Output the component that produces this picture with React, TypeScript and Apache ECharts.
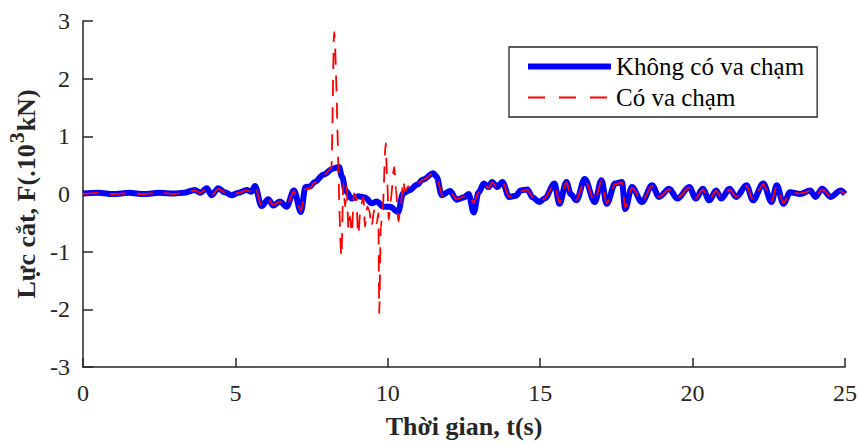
import React, { useEffect, useRef } from "react";
import * as echarts from "echarts";

// Thời gian (s) và lực cắt (10^3 kN) — Không có va chạm
const khongT = [0, 0.5, 1.0, 1.5, 2.0, 2.5, 3.0, 3.3, 3.67, 3.85, 4.06, 4.22, 4.44, 4.65, 4.88, 5.1, 5.37, 5.53, 5.64, 5.86, 6.08, 6.24, 6.46, 6.68, 6.92, 7.15, 7.3, 7.45, 7.6, 7.9, 8.2, 8.4, 8.5, 8.62, 8.82, 9.03, 9.25, 9.47, 9.64, 9.85, 10.07, 10.34, 10.5, 10.73, 10.95, 11.16, 11.49, 11.6, 11.77, 12.04, 12.26, 12.49, 12.65, 12.82, 12.98, 13.15, 13.31, 13.42, 13.59, 13.76, 13.98, 14.2, 14.36, 14.58, 14.75, 14.97, 15.14, 15.47, 15.63, 15.86, 16.0, 16.19, 16.46, 16.79, 17.01, 17.18, 17.46, 17.68, 17.79, 18.01, 18.34, 18.67, 18.9, 19.23, 19.5, 19.89, 20.11, 20.33, 20.55, 20.77, 20.94, 21.21, 21.43, 21.77, 21.98, 22.32, 22.59, 22.76, 22.98, 23.2, 23.53, 23.86, 24.03, 24.25, 24.53, 24.86, 25.0];
const khongV = [0.01, 0.02, 0.0, 0.02, 0.0, 0.02, 0.01, 0.02, 0.07, 0.02, 0.1, -0.02, 0.1, 0.03, -0.02, 0.02, 0.07, 0.04, 0.14, -0.21, -0.09, -0.2, -0.13, -0.22, 0.06, -0.31, 0.12, 0.13, 0.21, 0.34, 0.44, 0.47, 0.3, 0.05, -0.08, -0.04, -0.06, -0.16, -0.13, -0.22, -0.22, -0.31, 0.01, 0.07, 0.16, 0.25, 0.36, 0.3, -0.02, 0.05, -0.1, -0.06, 0.0, -0.32, 0.03, 0.18, 0.12, 0.21, 0.12, 0.21, -0.05, -0.03, 0.06, 0.08, -0.06, -0.14, -0.08, 0.18, -0.17, 0.21, 0.0, -0.11, 0.26, -0.14, 0.24, -0.17, 0.18, 0.21, -0.26, 0.12, -0.14, 0.15, -0.05, 0.09, -0.08, 0.12, -0.08, 0.09, -0.11, 0.06, -0.08, 0.09, -0.05, 0.15, -0.11, 0.18, -0.14, 0.15, -0.17, 0.03, 0.0, 0.06, -0.05, 0.09, -0.05, 0.06, 0.0];

// Có va chạm
const coT = [0, 0.5, 1.0, 1.5, 2.0, 2.5, 3.0, 3.3, 3.67, 3.85, 4.06, 4.22, 4.44, 4.65, 4.88, 5.1, 5.37, 5.53, 5.64, 5.86, 6.08, 6.24, 6.46, 6.68, 6.92, 7.15, 7.3, 7.45, 7.6, 7.9, 8.15, 8.24, 8.48, 8.54, 8.6, 8.65, 8.71, 8.76, 8.82, 8.89, 8.96, 9.03, 9.11, 9.2, 9.25, 9.33, 9.39, 9.47, 9.55, 9.64, 9.69, 9.72, 9.77, 9.83, 9.93, 9.98, 10.03, 10.09, 10.21, 10.27, 10.35, 10.42, 10.51, 10.56, 10.67, 10.8, 10.95, 11.16, 11.49, 11.6, 11.8, 12.04, 12.26, 12.49, 12.65, 12.82, 12.98, 13.15, 13.31, 13.42, 13.59, 13.76, 13.98, 14.2, 14.36, 14.58, 14.75, 14.97, 15.14, 15.47, 15.63, 15.86, 16.0, 16.19, 16.46, 16.79, 17.01, 17.18, 17.46, 17.68, 17.79, 18.01, 18.34, 18.67, 18.9, 19.23, 19.5, 19.89, 20.11, 20.33, 20.55, 20.77, 20.94, 21.21, 21.43, 21.77, 21.98, 22.32, 22.59, 22.76, 22.98, 23.2, 23.53, 23.86, 24.03, 24.25, 24.53, 24.86, 25.0];
const coV = [0.0, 0.02, 0.0, 0.01, 0.0, 0.02, 0.0, 0.02, 0.06, 0.02, 0.09, -0.02, 0.09, 0.03, -0.02, 0.02, 0.06, 0.04, 0.13, -0.2, -0.09, -0.19, -0.13, -0.21, 0.05, -0.29, 0.09, 0.1, 0.2, 0.33, 0.45, 2.81, -1.09, 0.19, -0.22, 0.13, -0.62, -0.39, -0.68, 0.01, -0.05, -0.71, -0.22, -0.05, -0.57, -0.22, -0.28, -0.57, -0.28, -0.51, -0.33, -2.07, -0.57, -0.28, 0.88, 0.24, -0.45, -0.13, 0.47, 0.07, -0.48, -0.22, 0.24, 0.04, 0.13, 0.1, 0.17, 0.25, 0.35, 0.3, -0.04, 0.04, -0.09, -0.05, 0.0, -0.15, 0.03, 0.16, 0.1, 0.2, 0.11, 0.2, -0.04, -0.03, 0.05, 0.07, -0.05, -0.13, -0.08, 0.17, -0.15, 0.2, 0.0, -0.1, 0.25, -0.13, 0.23, -0.16, 0.17, 0.2, -0.24, 0.11, -0.13, 0.14, -0.05, 0.08, -0.07, 0.11, -0.07, 0.08, -0.1, 0.06, -0.07, 0.08, -0.05, 0.14, -0.1, 0.17, -0.13, 0.14, -0.16, 0.03, 0.01, 0.05, -0.04, 0.08, -0.04, 0.05, 0.0];

const seriesNames = ["Không có va chạm", "Có va chạm"];
const xRange = { min: 0, max: 25, step: 5 };
const yRange = { min: -3, max: 3, step: 1 };

const FONT = "Liberation Serif";
const INK = "#262626";

export default function App() {
  const ref = useRef<HTMLDivElement | null>(null);

  useEffect(() => {
    if (!ref.current) return;
    const chart = echarts.init(ref.current, undefined, { renderer: "svg" });
    const khong = khongT.map((t, i) => [t, khongV[i]]);
    const co = coT.map((t, i) => [t, coV[i]]);

    chart.setOption({
      animation: false,
      backgroundColor: "#fff",
      textStyle: { fontFamily: FONT },
      grid: { left: 83, right: 14, top: 21, bottom: 77, containLabel: false, outerBoundsMode: "none" },
      legend: {
        orient: "vertical",
        left: 509,
        top: 47,
        padding: [7, 13, 7, 16],
        itemGap: 6,
        itemWidth: 83,
        itemHeight: 25,
        borderColor: INK,
        borderWidth: 1.3,
        borderRadius: 0,
        backgroundColor: "#fff",
        itemStyle: { opacity: 0 },
        textStyle: { fontFamily: FONT, fontSize: 25, color: "#000" },
        data: [
          { name: seriesNames[0], itemStyle: { opacity: 0 }, lineStyle: { width: 6 } },
          { name: seriesNames[1], itemStyle: { opacity: 0 }, lineStyle: { width: 2, type: [17, 14] } },
        ],
      },
      xAxis: {
        type: "value",
        min: xRange.min,
        max: xRange.max,
        interval: xRange.step,
        name: "Thời gian, t(s)",
        nameLocation: "middle",
        nameGap: 46,
        nameTextStyle: { fontFamily: FONT, fontSize: 26, fontWeight: "bold", color: INK },
        axisLine: { onZero: false, lineStyle: { color: INK, width: 1.5 } },
        axisTick: { inside: true, length: 9, lineStyle: { color: INK, width: 1.5 } },
        axisLabel: { fontFamily: FONT, fontSize: 24, color: INK, margin: 14 },
        splitLine: { show: false },
      },
      yAxis: {
        type: "value",
        min: yRange.min,
        max: yRange.max,
        interval: yRange.step,
        name: "{a|Lực cắt, F(.10}{s|3}{a|kN)}",
        nameLocation: "middle",
        nameRotate: 90,
        nameGap: 36,
        nameTextStyle: {
          fontFamily: FONT,
          fontSize: 26,
          fontWeight: "bold",
          color: INK,
          rich: {
            a: { fontFamily: FONT, fontSize: 26, fontWeight: "bold", color: INK },
            s: { fontFamily: FONT, fontSize: 22, fontWeight: "bold", color: INK, padding: [0, 1, 20, 1] },
          },
        },
        axisLine: { onZero: false, lineStyle: { color: INK, width: 1.5 } },
        axisTick: { inside: true, length: 10, lineStyle: { color: INK, width: 1.5 } },
        axisLabel: { fontFamily: FONT, fontSize: 24, color: INK, margin: 13 },
        splitLine: { show: false },
      },
      series: [
        {
          name: seriesNames[0],
          type: "line",
          data: khong,
          symbol: "none",
          smooth: 0.35,
          smoothMonotone: "x",
          lineStyle: { color: "#0000ff", width: 6 },
          itemStyle: { color: "#0000ff" },
          z: 2,
        },
        {
          name: seriesNames[1],
          type: "line",
          data: co,
          symbol: "none",
          smooth: 0.25,
          smoothMonotone: "x",
          lineStyle: { color: "#ff0000", width: 1.8, type: [16, 11] },
          itemStyle: { color: "#ff0000" },
          z: 3,
        },
      ],
    });
    return () => chart.dispose();
  }, []);

  return (
    <div
      ref={ref}
      style={{ position: "fixed", left: 0, top: 0, width: 859, height: 444, background: "#fff" }}
    />
  );
}
